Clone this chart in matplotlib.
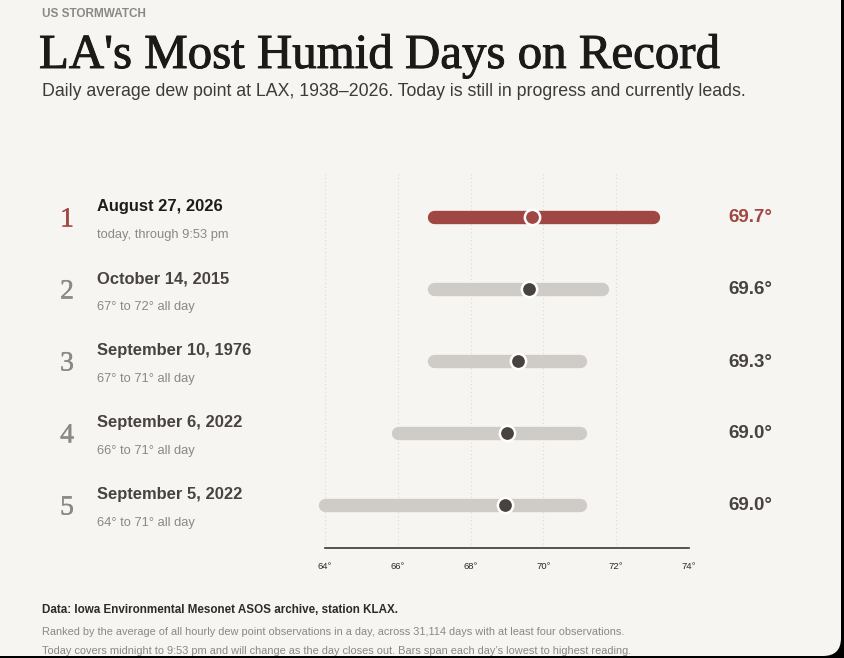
import matplotlib
matplotlib.use("Agg")
import matplotlib.pyplot as plt
from matplotlib.patches import FancyBboxPatch
import matplotlib.patheffects as pe

# ---------------- data ----------------
ranks = [1, 2, 3, 4, 5]
dates = ["August 27, 2026", "October 14, 2015", "September 10, 1976",
         "September 6, 2022", "September 5, 2022"]
notes = ["today, through 9:53 pm", "67° to 72° all day", "67° to 71° all day",
         "66° to 71° all day", "64° to 71° all day"]
lows = [67.0, 67.0, 67.0, 66.0, 64.0]
highs = [73.0, 71.6, 71.0, 71.0, 71.0]
avgs = [69.7, 69.6, 69.3, 69.0, 68.95]
avg_labels = ["69.7°", "69.6°", "69.3°", "69.0°", "69.0°"]
xticks = [64, 66, 68, 70, 72, 74]
xtick_labels = ["64°", "66°", "68°", "70°", "72°", "74°"]

W, H = 844, 658
BG = "#f6f5f1"
RED = "#a14743"
GRAYBAR = "#cfcbc6"
DARK = "#48433f"
MUTED = "#8c8883"

fig = plt.figure(figsize=(W / 100, H / 100), dpi=100)
fig.patch.set_facecolor("black")

# card background
card = FancyBboxPatch((-30, 2), 871, 700, boxstyle="round,pad=0,rounding_size=18",
                      transform=None, facecolor=BG, edgecolor="none", zorder=-10)
fig.patches.append(card)

SANS = ["Liberation Sans", "DejaVu Sans"]
SERIF = ["Liberation Serif", "DejaVu Serif"]


def ftext(x, y, s, **kw):
    return fig.text(x / W, 1 - y / H, s, **kw)


def heavy(color, w=0.7):
    return [pe.withStroke(linewidth=w, foreground=color)]


# header
ftext(42, 14, "US STORMWATCH", fontsize=8.5, fontweight="bold", color=MUTED,
      family=SANS, va="center", ha="left")
ftext(39, 68, "LA's Most Humid Days on Record", fontsize=35.2, color="#1c1a18",
      family=SERIF, va="baseline", ha="left", path_effects=heavy("#1c1a18", 0.7))
ftext(42, 91, "Daily average dew point at LAX, 1938\u20132026. Today is still in progress and currently leads.",
      fontsize=12.75, color="#3e3a37", family=SANS, va="center", ha="left")

# data axes
y_top_px, y_bot_px = 173, 548
x_l_px, x_r_px = 325, 689
row0, step = 217, 72
ax = fig.add_axes([x_l_px / W, (H - y_bot_px) / H, (x_r_px - x_l_px) / W,
                   (y_bot_px - y_top_px) / H])
ax.set_facecolor("none")
ax.set_xlim(64, 74)
ax.set_ylim((y_bot_px - row0) / step, (y_top_px - row0) / step)

for x in xticks:
    ax.axvline(x, color="#dcd9d4", lw=0.8, ls=(0, (1, 2.5)), zorder=1)

for i in range(len(ranks)):
    col = RED if i == 0 else GRAYBAR
    ax.plot([lows[i], highs[i]], [i, i], color=col, lw=9.6,
            solid_capstyle="round", zorder=2, clip_on=False)
    ax.plot([avgs[i]], [i], marker="o", ms=11, mfc=RED if i == 0 else DARK,
            mec="white", mew=1.8, zorder=3, clip_on=False)

for s in ["top", "right", "left"]:
    ax.spines[s].set_visible(False)
ax.spines["bottom"].set_color("#3a3735")
ax.spines["bottom"].set_linewidth(1.2)
ax.set_yticks([])
ax.set_xticks(xticks)
ax.set_xticklabels(xtick_labels, fontsize=6.8, color="#2a2826", family=SANS)
ax.tick_params(axis="x", length=0, pad=10)

# row text
for i in range(len(ranks)):
    yc = row0 + step * i
    rc = RED if i == 0 else MUTED
    ftext(67, yc + 3, str(ranks[i]), fontsize=20, family=SERIF,
          color=rc, ha="center", va="center", path_effects=heavy(rc, 0.3))
    ftext(97, yc - 10, dates[i], fontsize=11.9, fontweight="bold", family=SANS,
          color="#1e1c1a" if i == 0 else "#48433f", ha="left", va="center")
    ftext(97, yc + 18, notes[i], fontsize=9.3, family=SANS, color=MUTED,
          ha="left", va="center")
    ftext(728, yc + 1, avg_labels[i], fontsize=13.5, fontweight="bold", family=SANS,
          color=RED if i == 0 else "#48433f", ha="left", va="center")

# footer
ftext(42, 610, "Data: Iowa Environmental Mesonet ASOS archive, station KLAX.",
      fontsize=8.4, fontweight="bold", family=SANS, color="#2e2b29",
      ha="left", va="center")
ftext(42, 632, "Ranked by the average of all hourly dew point observations in a day, across 31,114 days with at least four observations.",
      fontsize=7.9, family=SANS, color=MUTED, ha="left", va="center")
ftext(42, 651, "Today covers midnight to 9:53 pm and will change as the day closes out. Bars span each day\u2019s lowest to highest reading.",
      fontsize=7.9, family=SANS, color=MUTED, ha="left", va="center")

fig.savefig("out.png", dpi=100, facecolor=fig.get_facecolor())
